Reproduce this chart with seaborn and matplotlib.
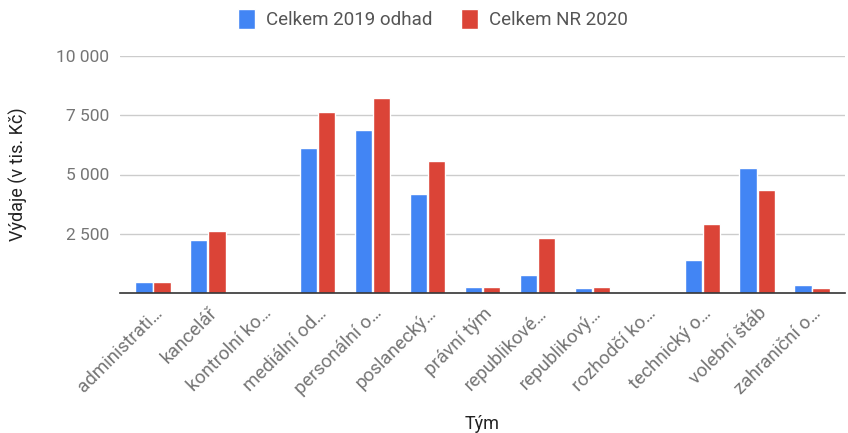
import matplotlib
matplotlib.use("Agg")
import matplotlib.pyplot as plt
import pandas as pd
import seaborn as sns
from matplotlib.ticker import FixedLocator, FuncFormatter

teams = [
    "administrati…", "kancelář", "kontrolní ko…", "mediální od…",
    "personální o…", "poslanecký…", "právní tým", "republikové…",
    "republikový…", "rozhodčí ko…", "technický o…", "volební štáb",
    "zahraniční o…",
]
est_2019 = [460, 2240, 20, 6120, 6880, 4180, 255, 770, 200, 15, 1380, 5290, 325]
nr_2020 = [460, 2600, 20, 7640, 8230, 5570, 260, 2340, 260, 15, 2900, 4360, 200]
series = ["Celkem 2019 odhad", "Celkem NR 2020"]
colors = ["#4285F4", "#DB4437"]

df = pd.DataFrame({
    "team": teams * 2,
    "value": est_2019 + nr_2020,
    "series": [series[0]] * len(teams) + [series[1]] * len(teams),
})

sns.set_style("white")
plt.rcParams["font.family"] = ["Roboto", "DejaVu Sans"]

fig = plt.figure(figsize=(8.48, 4.33), dpi=100)
ax = fig.add_axes([120 / 848, 140 / 433, 725 / 848, 237 / 433])

sns.barplot(data=df, x="team", y="value", hue="series", palette=colors,
            saturation=1, width=0.66, gap=0.05, ax=ax, legend=True)

ax.set_ylim(0, 10000)
ax.set_xlim(-0.6, len(teams) - 0.4)
ax.yaxis.set_major_locator(FixedLocator([2500, 5000, 7500, 10000]))
ax.yaxis.set_major_formatter(FuncFormatter(lambda v, p: f"{int(v):,}".replace(",", " ")))
ax.grid(axis="y", color="#cccccc", linewidth=1)
ax.set_axisbelow(True)
for s in ["top", "right", "left"]:
    ax.spines[s].set_visible(False)
ax.spines["bottom"].set_color("#333333")
ax.spines["bottom"].set_linewidth(1.2)
ax.tick_params(axis="y", length=0, labelsize=12.5, colors="#757575", pad=8)
ax.tick_params(axis="x", length=0, labelsize=13.5, colors="#757575", pad=8)
plt.setp(ax.get_xticklabels(), rotation=45, ha="right", rotation_mode="anchor")

ax.set_xlabel("Tým", fontsize=13, color="#222222", labelpad=12)
ax.set_ylabel("Výdaje (v tis. Kč)", fontsize=13, color="#222222", labelpad=20)

handles, labels = ax.get_legend_handles_labels()
ax.get_legend().remove()
fig.legend(handles, labels, loc="center", bbox_to_anchor=(433 / 848, 1 - 19 / 433),
           ncol=2, frameon=False, fontsize=13.5, labelcolor="#555555",
           handlelength=0.9, handleheight=1.3, columnspacing=1.5, handletextpad=0.6)

fig.savefig("out.png", dpi=100)
